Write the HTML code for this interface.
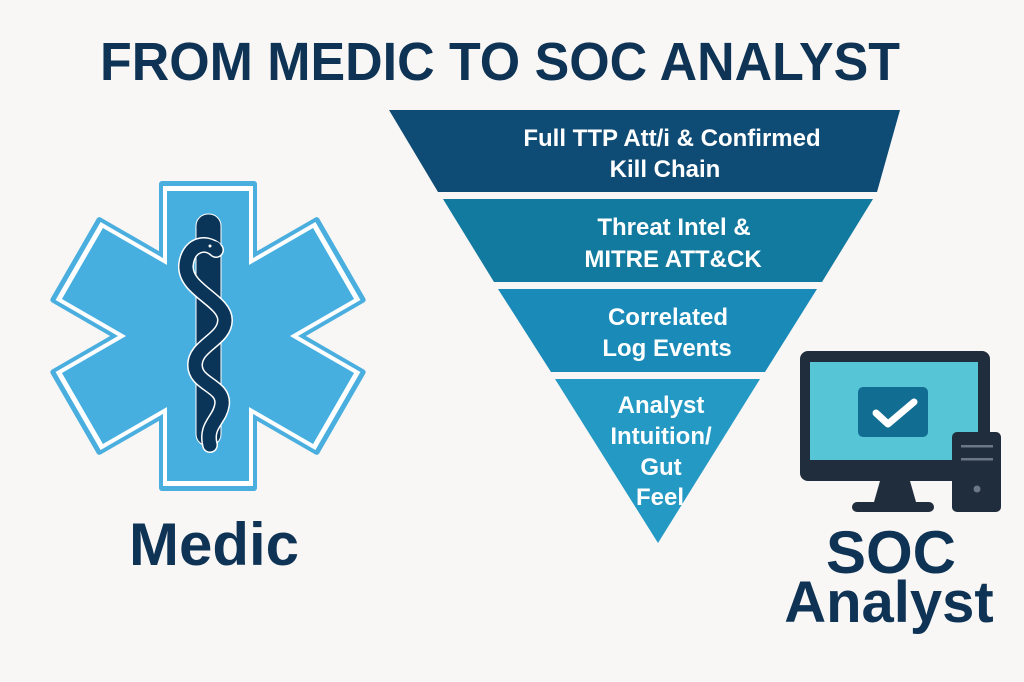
<!DOCTYPE html>
<html><head><meta charset="utf-8"><style>
html,body{margin:0;padding:0;background:#f9f7f5;}
svg{display:block;}
</style></head><body>
<svg width="1024" height="682" viewBox="0 0 1024 682" xmlns="http://www.w3.org/2000/svg">
<rect width="1024" height="682" fill="#f9f7f5"/>
<text x="500" y="80" text-anchor="middle" font-family="Liberation Sans, sans-serif" font-weight="bold" font-size="54" fill="#0e3355" textLength="800" lengthAdjust="spacingAndGlyphs">FROM MEDIC TO SOC ANALYST</text>

<g transform="translate(208,336)">
  <g fill="#4aaedf">
    <rect x="-49" y="-155" width="98" height="310" rx="3"/>
    <rect x="-49" y="-155" width="98" height="310" rx="3" transform="rotate(60)"/>
    <rect x="-49" y="-155" width="98" height="310" rx="3" transform="rotate(-60)"/>
  </g>
  <g fill="#ffffff">
    <rect x="-45" y="-150" width="90" height="300"/>
    <rect x="-45" y="-150" width="90" height="300" transform="rotate(60)"/>
    <rect x="-45" y="-150" width="90" height="300" transform="rotate(-60)"/>
  </g>
  <g fill="#47afe0">
    <rect x="-41" y="-145" width="82" height="290"/>
    <rect x="-41" y="-145" width="82" height="290" transform="rotate(60)"/>
    <rect x="-41" y="-145" width="82" height="290" transform="rotate(-60)"/>
  </g>
</g>
<rect x="196" y="214" width="25" height="232" rx="12" fill="#0b3558" stroke="#fff" stroke-width="1"/>
<path d="M216 250 C 205 240, 188 245, 186 265 C 184 290, 225 300, 225 320 C 225 340, 195 345, 195 365 C 195 385, 225 385, 222 405 C 220 420, 205 425, 210 445" fill="none" stroke="#fff" stroke-width="16" stroke-linecap="round"/>
<path d="M216 250 C 205 240, 188 245, 186 265 C 184 290, 225 300, 225 320 C 225 340, 195 345, 195 365 C 195 385, 225 385, 222 405 C 220 420, 205 425, 210 445" fill="none" stroke="#0b3558" stroke-width="13" stroke-linecap="round"/>
<ellipse cx="213" cy="247" rx="8" ry="6" fill="#0b3558"/>
<circle cx="210" cy="246" r="1.5" fill="#fff"/>

<text x="214" y="565" text-anchor="middle" font-family="Liberation Sans, sans-serif" font-weight="bold" font-size="60" fill="#0e3355">Medic</text>

<polygon points="389,110 900,110 877,192 438,192" fill="#0f4c75"/>
<polygon points="443,199 873,199 822,282 494,282" fill="#127a9e"/>
<polygon points="498,289 817,289 765,372 551,372" fill="#1a8bb8"/>
<polygon points="555,379 760,379 658,543" fill="#2399c4"/>
<g font-family="Liberation Sans, sans-serif" font-size="24" font-weight="bold" fill="#fff" text-anchor="middle">
  <text x="672" y="146">Full TTP Att/i &amp; Confirmed</text>
  <text x="665" y="177">Kill Chain</text>
  <text x="674" y="235">Threat Intel &amp;</text>
  <text x="673" y="267">MITRE ATT&amp;CK</text>
  <text x="668" y="325">Correlated</text>
  <text x="667" y="356">Log Events</text>
  <text x="661" y="413">Analyst</text>
  <text x="661" y="444">Intuition/</text>
  <text x="661" y="475">Gut</text>
  <text x="660" y="505">Feel</text>
</g>

<rect x="800" y="351" width="190" height="130" rx="8" fill="#1f2d3d"/>
<rect x="810" y="362" width="168" height="98" fill="#56c6d6"/>
<rect x="858" y="387" width="70" height="50" rx="5" fill="#126d93"/>
<path d="M876 413 L888 424 L914 402" fill="none" stroke="#fff" stroke-width="7" stroke-linecap="round" stroke-linejoin="round"/>
<polygon points="880,481 910,481 916,502 874,502" fill="#1f2d3d"/>
<rect x="852" y="502" width="82" height="10" rx="5" fill="#1f2d3d"/>
<rect x="952" y="432" width="49" height="80" rx="5" fill="#1f2d3d"/>
<rect x="961" y="445" width="32" height="2.5" fill="#6b7785"/>
<rect x="961" y="458" width="32" height="2.5" fill="#6b7785"/>
<circle cx="977" cy="489" r="3.5" fill="#6b7785"/>

<text x="891" y="573" text-anchor="middle" font-family="Liberation Sans, sans-serif" font-weight="bold" font-size="60" fill="#0e3355">SOC</text>
<text x="889" y="622" text-anchor="middle" font-family="Liberation Sans, sans-serif" font-weight="bold" font-size="58" fill="#0e3355">Analyst</text>
</svg>
</body></html>
